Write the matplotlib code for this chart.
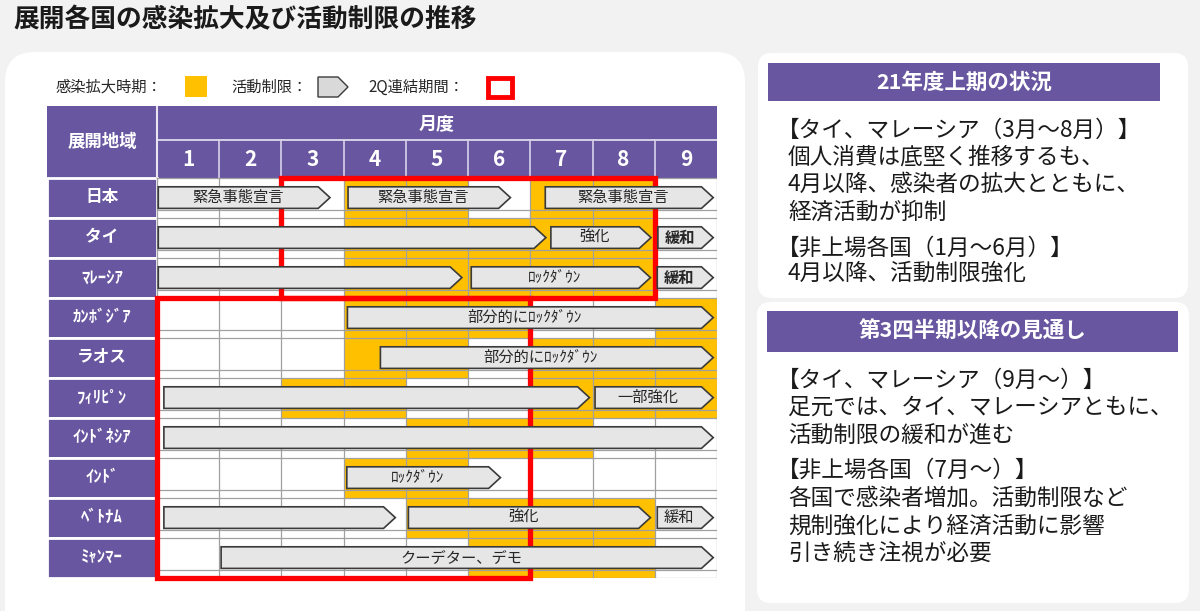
# Infection spread and activity restrictions by country (months 1-9)
import matplotlib.pyplot as plt
from matplotlib.patches import Rectangle, Polygon, FancyBboxPatch

plt.rcParams['font.family'] = ['Noto Sans CJK JP', 'DejaVu Sans']

# ---- Data ---- #
months = [1, 2, 3, 4, 5, 6, 7, 8, 9]
countries = ['日本', 'タイ', 'ﾏﾚｰｼｱ', 'ｶﾝﾎﾞｼﾞｱ', 'ラオス', 'ﾌｨﾘﾋﾟﾝ',
             'ｲﾝﾄﾞﾈｼｱ', 'ｲﾝﾄﾞ', 'ﾍﾞﾄﾅﾑ', 'ﾐｬﾝﾏｰ']

# months with infection spread (yellow), one list per country
infection_months = [
    [4, 5, 7, 8],
    [4, 5, 6, 7, 8],
    [4, 5, 6, 7, 8],
    [4, 5, 6, 9],
    [4, 5, 7, 8, 9],
    [3, 4, 7, 8, 9],
    [5, 6, 7],
    [4, 5],
    [5, 6, 7, 8],
    [6, 7, 8],
]

# activity restriction periods (month position, 0 = start of month 1)
arrow_rows = [0, 0, 0, 1, 1, 1, 2, 2, 2, 3, 4, 5, 5, 6, 7, 8, 8, 8, 9]
arrow_starts = [0.02, 3.07, 6.24, 0.02, 6.33, 8.05, 0.02, 5.05, 8.04, 3.06, 3.59,
                0.11, 7.04, 0.11, 3.05, 0.11, 4.04, 8.04, 1.03]
arrow_ends = [2.78, 5.68, 8.94, 6.25, 7.94, 8.94, 4.90, 7.93, 8.94, 8.94, 8.94,
              6.95, 8.94, 8.94, 5.52, 3.83, 7.93, 8.94, 8.94]
arrow_labels = ['緊急事態宣言', '緊急事態宣言', '緊急事態宣言', '', '強化', '緩和',
                '', 'ﾛｯｸﾀﾞｳﾝ', '緩和', '部分的にﾛｯｸﾀﾞｳﾝ', '部分的にﾛｯｸﾀﾞｳﾝ',
                '', '一部強化', '', 'ﾛｯｸﾀﾞｳﾝ', '', '強化', '緩和', 'クーデター、デモ']
arrow_bold = [False, False, False, False, False, True, False, False, True, False,
              False, False, False, False, False, False, False, False, False]

# 2Q consolidation periods: (first month, last month), (first row, last row)
q2_months = [(3, 8), (1, 6)]
q2_rows = [(0, 2), (3, 9)]

panel1_title = '21年度上期の状況'
panel1_lines = ['【タイ、マレーシア（3月～8月）】', '個人消費は底堅く推移するも、',
                '4月以降、感染者の拡大とともに、', '経済活動が抑制',
                '【非上場各国（1月～6月）】', '4月以降、活動制限強化']
panel2_title = '第3四半期以降の見通し'
panel2_lines = ['【タイ、マレーシア（9月～）】', '足元では、タイ、マレーシアともに、',
                '活動制限の緩和が進む', '【非上場各国（7月～）】',
                '各国で感染者増加。活動制限など', '規制強化により経済活動に影響',
                '引き続き注視が必要']

purple = '#6856A0'
yellow = '#FFC000'
red = '#FF0000'
arrow_fc = '#E6E6E6'
arrow_ec = '#3A3A3A'

# ---- Figure / background ---- #
fig = plt.figure(figsize=(12, 6.11), dpi=100)
fig.patch.set_facecolor('#F2F2F2')

bg = fig.add_axes([0, 0, 1, 1])
bg.set_xlim(0, 1200)
bg.set_ylim(611, 0)
bg.axis('off')

bg.add_patch(FancyBboxPatch((5, 52), 740, 600, boxstyle='round,pad=0,rounding_size=30',
                            fc='white', ec='none'))
bg.add_patch(FancyBboxPatch((758, 53), 430, 245, boxstyle='round,pad=0,rounding_size=14',
                            fc='white', ec='none'))
bg.add_patch(FancyBboxPatch((757, 302), 432, 301, boxstyle='round,pad=0,rounding_size=14',
                            fc='white', ec='none'))

bg.text(13, 20, '展開各国の感染拡大及び活動制限の推移', fontsize=18.5, fontweight='bold',
        color='#1A1A1A', va='center', ha='left')

# Legend
bg.text(56, 87, '感染拡大時期：', fontsize=11, va='center', color='#262626')
bg.add_patch(Rectangle((185, 76), 22, 21, fc=yellow, ec='none'))
bg.text(231, 87, '活動制限：', fontsize=11, va='center', color='#262626')
bg.add_patch(Polygon([(318, 77), (338, 77), (348, 87), (338, 97), (318, 97)],
                     closed=True, fc='#D9D9D9', ec=arrow_ec, lw=1))
bg.text(368, 87, '2Q連結期間：', fontsize=11, va='center', color='#262626')
bg.add_patch(Rectangle((488, 78), 24, 19, fc='white', ec=red, lw=3.5))

# Right panels
def panel_text(lines, ys):
    for y, line in zip(ys, lines):
        x = 777 if line.startswith('【') else 788
        bg.text(x, y, line, fontsize=16.3, va='center', ha='left', color='#1A1A1A')

bg.add_patch(Rectangle((768, 63), 392, 38, fc=purple, ec='none'))
bg.text(964, 82, panel1_title, fontsize=15.5, fontweight='bold', color='white',
        ha='center', va='center')
panel_text(panel1_lines, [130, 157, 184, 212, 248, 273])

bg.add_patch(Rectangle((767, 311), 411, 41, fc=purple, ec='none'))
bg.text(972, 331, panel2_title, fontsize=15.5, fontweight='bold', color='white',
        ha='center', va='center')
panel_text(panel2_lines, [380, 407, 435, 470, 498, 526, 553])

# ---- Grid axes: x in months, y in country rows ---- #
label_w = 110 / 62.2
head_h = 1.8
ax = fig.add_axes([47 / 1200, 1 - 578 / 611, 670 / 1200, 472 / 611])
ax.set_xlim(-label_w, len(months))
ax.set_ylim(len(countries), -head_h)
ax.axis('off')

n_m = len(months)
n_c = len(countries)

# Header
ax.add_patch(Rectangle((-label_w, -head_h), label_w + n_m, head_h, fc=purple, ec='none'))
ax.plot([0, 0], [-head_h, 0], color='#E8E4F2', lw=1.5)
ax.plot([0, n_m], [-0.95, -0.95], color='#E8E4F2', lw=1.2)
for m in range(1, n_m):
    ax.plot([m, m], [-0.95, 0], color='#D8D2EA', lw=1.2)
ax.text(-label_w / 2, -0.9, '展開地域', fontsize=12.5, fontweight='bold', color='white',
        ha='center', va='center')
ax.text(n_m / 2, -1.37, '月度', fontsize=13, fontweight='bold', color='white',
        ha='center', va='center')
for i, m in enumerate(months):
    ax.text(i + 0.5, -0.47, str(m), fontsize=15, fontweight='bold', color='white',
            ha='center', va='center')

# Country labels
for r, c in enumerate(countries):
    ax.add_patch(Rectangle((-label_w, r), label_w, 1, fc=purple, ec='white', lw=2))
    ax.text(-label_w / 2, r + 0.48, c, fontsize=12, fontweight='bold', color='white',
            ha='center', va='center')

# Cells
ax.add_patch(Rectangle((0, 0), n_m, n_c, fc='white', ec='none'))
for r, ms in enumerate(infection_months):
    for m in ms:
        ax.add_patch(Rectangle((m - 1, r), 1, 1, fc=yellow, ec='none'))

for m in range(n_m + 1):
    ax.plot([m, m], [0, n_c], color='#A0A0A0', lw=0.9)
for r in range(n_c + 1):
    ax.plot([0, n_m], [r, r], color='#A0A0A0', lw=0.9)
    if r < n_c:
        ax.plot([0, n_m], [r + 0.8, r + 0.8], color='#A0A0A0', lw=0.9)

# 2Q consolidation boxes (under the arrows)
for (m0, m1), (r0, r1) in zip(q2_months, q2_rows):
    ax.add_patch(Rectangle((m0 - 1, r0), m1 - m0 + 1, r1 - r0 + 1, fc='none', ec=red,
                           lw=3.8, zorder=3, clip_on=False))

# Restriction arrows
h = 0.27
tip = 0.19
for r, x0, x1, lab, b in zip(arrow_rows, arrow_starts, arrow_ends, arrow_labels, arrow_bold):
    yc = r + 0.49
    pts = [(x0, yc - h), (x1 - tip, yc - h), (x1, yc), (x1 - tip, yc + h), (x0, yc + h)]
    ax.add_patch(Polygon(pts, closed=True, fc=arrow_fc, ec=arrow_ec, lw=1.2, zorder=4))
    if lab:
        ax.text((x0 + x1 - tip) / 2, yc, lab, fontsize=11, color='#262626',
                fontweight='bold' if b else 'normal', ha='center', va='center', zorder=5)

fig.savefig('out.png', dpi=100, facecolor=fig.get_facecolor())
